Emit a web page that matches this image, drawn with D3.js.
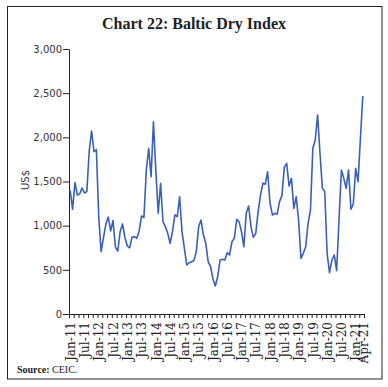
<!DOCTYPE html>
<html>
<head>
<meta charset="utf-8">
<script src="https://cdn.jsdelivr.net/npm/d3@7/dist/d3.min.js"></script>
<style>
	body { margin: 0; background: #fff; }
	svg { display: block; }
</style>
</head>
<body>
<div id="chart"></div>
<script>

// monthly averages, Jan-11 .. Apr-21 (US$)
var firstMonth = new Date(2011, 0, 1);
var bdi = [
	1400, 1185, 1487, 1347, 1360, 1426, 1370, 1385, 1845, 2070, 1838, 1860,
	1100,  705,  866, 1018, 1098,  940, 1057,  758,  711,  932, 1020,  866,
	 772,  749,  872,  875,  857,  940, 1110, 1092, 1630, 1876, 1555, 2177,
	1620, 1140, 1480, 1045,  989,  913,  800,  932, 1121, 1102, 1328,  932,
	 743,  555,  580,  592,  604,  705,  989, 1064,  894,  800,  592,  536,
	 400,  317,  422,  611,  619,  611,  694,  668,  819,  857, 1072, 1045,
	 932,  762, 1140, 1223,  989,  868,  913, 1159, 1347, 1480, 1470, 1611,
	1253, 1121, 1140, 1130, 1272, 1340, 1660, 1706, 1449, 1536, 1196, 1328,
	1064,  630,  687,  762, 1027, 1177, 1876, 1970, 2253, 1819, 1423, 1385,
	 687,  468,  611,  668,  490, 1064, 1630, 1536, 1423, 1630, 1185, 1245,
	1649, 1498, 1989, 2468
];

var tickLabels = [
	"Jan-11", "Jul-11", "Jan-12", "Jul-12", "Jan-13", "Jul-13", "Jan-14",
	"Jul-14", "Jan-15", "Jul-15", "Jan-16", "Jul-16", "Jan-17", "Jul-17",
	"Jan-18", "Jul-18", "Jan-19", "Jul-19", "Jan-20", "Jul-20", "Jan-21", "Apr-21"
];

var yTicks = [0, 500, 1000, 1500, 2000, 2500, 3000];

var fmtMonth = d3.timeFormat("%b-%y");
var months = bdi.map(function(v, i) {
	return fmtMonth( d3.timeMonth.offset(firstMonth, i) );
});

var W = 388, H = 387;
// plot box (note: "top" is taken by window.top)
var mLeft = 69, mRight = 364, mTop = 49, mBottom = 314;

var svg = d3.select("#chart")
	.append("svg")
	.attr("width", W)
	.attr("height", H);

svg.append("rect")
	.attr("x", 7.5)
	.attr("y", 6.5)
	.attr("width", 374.5)
	.attr("height", 372.5)
	.attr("fill", "none")
	.attr("stroke", "#222")
	.attr("stroke-width", 1);

svg.append("text")
	.attr("x", 194)
	.attr("y", 29)
	.attr("text-anchor", "middle")
	.style("font-family", "'Liberation Serif', serif")
	.style("font-weight", "bold")
	.style("font-size", "16px")
	.attr("fill", "#222")
	.text("Chart 22: Baltic Dry Index");

var x = d3.scaleLinear()
	.domain([0, months.length])
	.range([mLeft, mRight]);

var y = d3.scaleLinear()
	.domain([0, 3000])
	.range([mBottom, mTop]);

// y axis
var yAxis = svg.append("g")
	.attr("transform", "translate(" + mLeft + ",0)")
	.call( d3.axisLeft(y)
		.tickValues(yTicks)
		.tickFormat(d3.format(","))
		.tickSize(6)
		.tickSizeOuter(0) );

yAxis.selectAll("text")
	.style("font-family", "'DejaVu Sans', sans-serif")
	.style("font-size", "10px")
	.attr("fill", "#333")
	.attr("x", -7);

svg.append("text")
	.attr("transform", "translate(29,180) rotate(-90)")
	.attr("text-anchor", "middle")
	.style("font-family", "'DejaVu Sans', sans-serif")
	.style("font-size", "10px")
	.attr("fill", "#333")
	.text("US$");

// x axis: tick marks every 2 months on category edges
svg.append("g")
	.attr("transform", "translate(0," + mBottom + ")")
	.call( d3.axisBottom(x)
		.tickValues( d3.range(0, months.length + 1, 2) )
		.tickFormat("")
		.tickSize(4)
		.tickSizeOuter(0) );

// labels sit on category centres
var labelAxis = svg.append("g")
	.attr("transform", "translate(0," + mBottom + ")")
	.call( d3.axisBottom(x)
		.tickValues( tickLabels.map(function(l) { return months.indexOf(l) + 0.5; }) )
		.tickFormat(function(d) { return months[Math.floor(d)]; })
		.tickSize(0) );

labelAxis.select(".domain").remove();

labelAxis.selectAll("text")
	.attr("transform", "rotate(-90)")
	.attr("text-anchor", "end")
	.attr("x", -8)
	.attr("y", 0)
	.attr("dy", "0.35em")
	.style("font-family", "'DejaVu Serif', serif")
	.style("font-size", "12px")
	.attr("fill", "#222");

svg.selectAll(".domain, .tick line")
	.attr("stroke", "#222");

// series
var line = d3.line()
	.x(function(d, i) { return x(i + 0.5); })
	.y(function(d) { return y(d); });

svg.append("path")
	.datum(bdi)
	.attr("d", line)
	.attr("fill", "none")
	.attr("stroke", "#3b5fb8")
	.attr("stroke-width", 1.6)
	.attr("stroke-linejoin", "round");

var src = svg.append("text")
	.attr("x", 17)
	.attr("y", 373)
	.style("font-family", "'Liberation Serif', serif")
	.style("font-size", "10px")
	.attr("fill", "#222");

src.append("tspan")
	.style("font-weight", "bold")
	.text("Source:");

src.append("tspan")
	.text(" CEIC.");

</script>
</body>
</html>
